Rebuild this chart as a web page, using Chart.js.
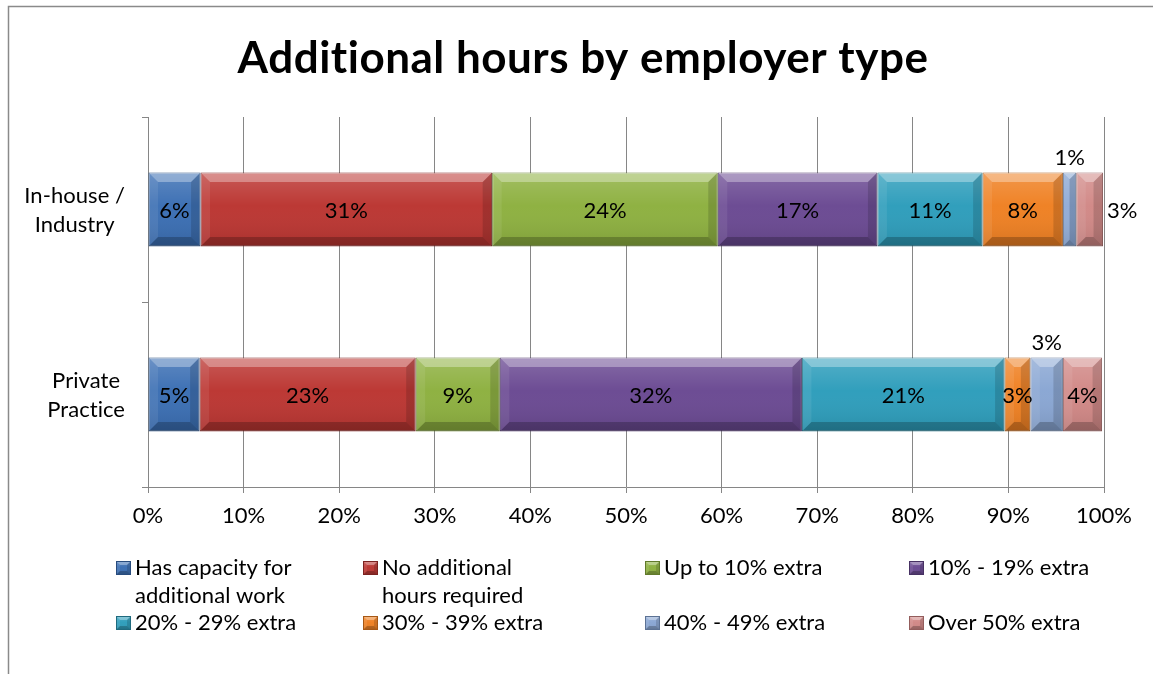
<!DOCTYPE html>
<html>
<head>
<meta charset="utf-8">
<title>Additional hours by employer type</title>
<script src="https://cdn.jsdelivr.net/npm/chart.js@4.4.1/dist/chart.umd.min.js"></script>
<style>
  html, body { margin: 0; padding: 0; background: #fff; }
  #wrap { position: relative; width: 1153px; height: 674px; }
</style>
</head>
<body>
<div id="wrap"><canvas id="hoursChart" width="1153" height="674"></canvas></div>
<script>
// categories (two-line labels) and the share of respondents in each band
const employerTypes = [['In-house /', 'Industry'], ['Private', 'Practice']];
const seriesNames = [
  ['Has capacity for', 'additional work'],
  ['No additional', 'hours required'],
  ['Up to 10% extra'],
  ['10% - 19% extra'],
  ['20% - 29% extra'],
  ['30% - 39% extra'],
  ['40% - 49% extra'],
  ['Over 50% extra']
];
const hasCapacity   = [5.5, 5.4];
const noAdditional  = [30.5, 22.6];
const upTo10        = [23.6, 8.8];
const extra10to19   = [16.7, 31.6];
const extra20to29   = [11.0, 21.2];
const extra30to39   = [8.4, 2.7];
const extra40to49   = [1.4, 3.4];
const over50        = [2.8, 4.1];
const xTicks = [0, 10, 20, 30, 40, 50, 60, 70, 80, 90, 100];

const seriesValues = [hasCapacity, noAdditional, upTo10, extra10to19,
                      extra20to29, extra30to39, extra40to49, over50];
const faceColors = ['#3A6EB3', '#BB3531', '#8DB03F', '#6A4992',
                    '#2D9DBB', '#EF8022', '#89A6D3', '#D18886'];
const edgeColors = ['#284C7E', '#7C2220', '#617A2B', '#473163',
                    '#1F6A7E', '#A65815', '#5C7294', '#935D5C'];

// small segments whose label sits outside the bar: "dataset,category" -> side
const outsideLabels = { '6,0': 'top', '7,0': 'right', '6,1': 'top' };

const FONT = 'Lato, "Open Sans", sans-serif';
const TEXT_SIZE = 22;

function bevel(ctx, x0, y0, x1, y1, b) {
  const w = x1 - x0, h = y1 - y0;
  b = Math.min(b, w / 2, h / 2);
  // soft vertical sheen on the face
  const g = ctx.createLinearGradient(0, y0, 0, y1);
  g.addColorStop(0, 'rgba(255,255,255,0.18)');
  g.addColorStop(0.45, 'rgba(255,255,255,0.02)');
  g.addColorStop(1, 'rgba(0,0,0,0.10)');
  ctx.fillStyle = g;
  ctx.fillRect(x0, y0, w, h);

  const poly = (pts, color) => {
    ctx.beginPath();
    ctx.moveTo(pts[0][0], pts[0][1]);
    for (let i = 1; i < pts.length; i++) ctx.lineTo(pts[i][0], pts[i][1]);
    ctx.closePath();
    ctx.fillStyle = color;
    ctx.fill();
  };
  poly([[x0, y0], [x1, y0], [x1 - b, y0 + b], [x0 + b, y0 + b]], 'rgba(255,255,255,0.32)');
  poly([[x0, y1], [x1, y1], [x1 - b, y1 - b], [x0 + b, y1 - b]], 'rgba(0,0,0,0.22)');
  poly([[x0, y0], [x0 + b, y0 + b], [x0 + b, y1 - b], [x0, y1]], 'rgba(255,255,255,0.08)');
  poly([[x1, y0], [x1 - b, y0 + b], [x1 - b, y1 - b], [x1, y1]], 'rgba(0,0,0,0.14)');
}

const excelLook = {
  id: 'excelLook',
  beforeDraw(chart) {
    const ctx = chart.ctx;
    ctx.save();
    ctx.fillStyle = '#fff';
    ctx.fillRect(0, 0, chart.width, chart.height);
    // chart frame (left and top edges visible)
    ctx.strokeStyle = '#8a8a8a';
    ctx.lineWidth = 1.5;
    ctx.beginPath();
    ctx.moveTo(8.5, chart.height);
    ctx.lineTo(8.5, 6.5);
    ctx.lineTo(chart.width, 6.5);
    ctx.stroke();
    // title
    ctx.fillStyle = '#000';
    ctx.font = 'bold 44px ' + FONT;
    ctx.letterSpacing = '0.5px';
    ctx.textAlign = 'center';
    ctx.textBaseline = 'alphabetic';
    ctx.fillText('Additional hours by employer type', 583, 73);
    ctx.restore();
  },
  afterDatasetsDraw(chart) {
    const ctx = chart.ctx;
    ctx.save();
    chart.data.datasets.forEach((ds, i) => {
      chart.getDatasetMeta(i).data.forEach((bar, j) => {
        const p = bar.getProps(['x', 'y', 'base', 'height'], true);
        const x0 = Math.min(p.x, p.base), x1 = Math.max(p.x, p.base);
        bevel(ctx, x0 + 0.5, p.y - p.height / 2 + 0.5, x1 - 0.5, p.y + p.height / 2 - 0.5, 9);
      });
    });
    // value labels
    ctx.fillStyle = '#000';
    ctx.font = TEXT_SIZE + 'px ' + FONT;
    ctx.textBaseline = 'middle';
    chart.data.datasets.forEach((ds, i) => {
      chart.getDatasetMeta(i).data.forEach((bar, j) => {
        const p = bar.getProps(['x', 'y', 'base', 'height'], true);
        const text = Math.round(ds.data[j]) + '%';
        const side = outsideLabels[i + ',' + j];
        if (side === 'top') {
          ctx.textAlign = 'center';
          ctx.fillText(text, (p.x + p.base) / 2, p.y - p.height / 2 - 15);
        } else if (side === 'right') {
          ctx.textAlign = 'left';
          ctx.fillText(text, Math.max(p.x, p.base) + 4, p.y + 1);
        } else {
          ctx.textAlign = 'center';
          ctx.fillText(text, (p.x + p.base) / 2, p.y + 1);
        }
      });
    });
    ctx.restore();
  },
  afterDraw(chart) {
    const ctx = chart.ctx;
    const yScale = chart.scales.y;
    ctx.save();
    ctx.fillStyle = '#000';
    ctx.font = TEXT_SIZE + 'px ' + FONT;
    ctx.letterSpacing = '0.05px';
    ctx.textBaseline = 'alphabetic';
    ctx.textAlign = 'center';
    // category labels: block right-aligned to the axis, lines centred
    employerTypes.forEach((lines, j) => {
      const cy = yScale.getPixelForValue(j);
      const w = Math.max(...lines.map(l => ctx.measureText(l).width));
      const cx = yScale.right - 23 - w / 2;
      lines.forEach((l, k) => ctx.fillText(l, cx, cy - 7 + k * 29));
    });
    // legend, four columns
    const colX = [116, 363, 645, 909];
    const rowBase = [575, 630];
    ctx.textAlign = 'left';
    seriesNames.forEach((lines, i) => {
      const mx = colX[i % 4], by = rowBase[Math.floor(i / 4)];
      ctx.fillStyle = faceColors[i];
      ctx.fillRect(mx, by - 14, 15, 14);
      bevel(ctx, mx, by - 14, mx + 15, by, 4);
      ctx.strokeStyle = edgeColors[i];
      ctx.lineWidth = 1;
      ctx.strokeRect(mx + 0.5, by - 13.5, 14, 13);
      ctx.fillStyle = '#000';
      lines.forEach((l, k) => ctx.fillText(l, mx + 19, by + k * 28));
    });
    ctx.restore();
  }
};

const datasets = seriesValues.map((vals, i) => ({
  label: seriesNames[i].join(' '),
  data: vals,
  backgroundColor: faceColors[i],
  borderColor: edgeColors[i],
  borderWidth: 1,
  borderSkipped: false,
  barPercentage: 0.5,
  categoryPercentage: 0.8
}));

new Chart(document.getElementById('hoursChart'), {
  type: 'bar',
  data: { labels: employerTypes.map(l => l.join(' ')), datasets: datasets },
  options: {
    indexAxis: 'y',
    responsive: false,
    animation: false,
    devicePixelRatio: 1,
    layout: { padding: { left: 0, top: 117, right: 49, bottom: 147 } },
    plugins: {
      legend: { display: false },
      title: { display: false },
      tooltip: { enabled: false }
    },
    scales: {
      x: {
        stacked: true,
        min: 0,
        max: 100,
        afterBuildTicks: s => { s.ticks = xTicks.map(v => ({ value: v })); },
        afterFit: s => { s.height = 40; },
        ticks: {
          callback: v => v + '%',
          color: '#000',
          padding: 10,
          font: { family: FONT, size: TEXT_SIZE }
        },
        grid: { color: '#868686', lineWidth: 1, tickLength: 6 },
        border: { color: '#868686', width: 1 }
      },
      y: {
        stacked: true,
        afterFit: s => { s.width = 148; },
        ticks: { display: false },
        grid: { drawOnChartArea: false, color: '#868686', tickLength: 6 },
        border: { color: '#868686', width: 1 }
      }
    }
  },
  plugins: [excelLook]
});
</script>
</body>
</html>
